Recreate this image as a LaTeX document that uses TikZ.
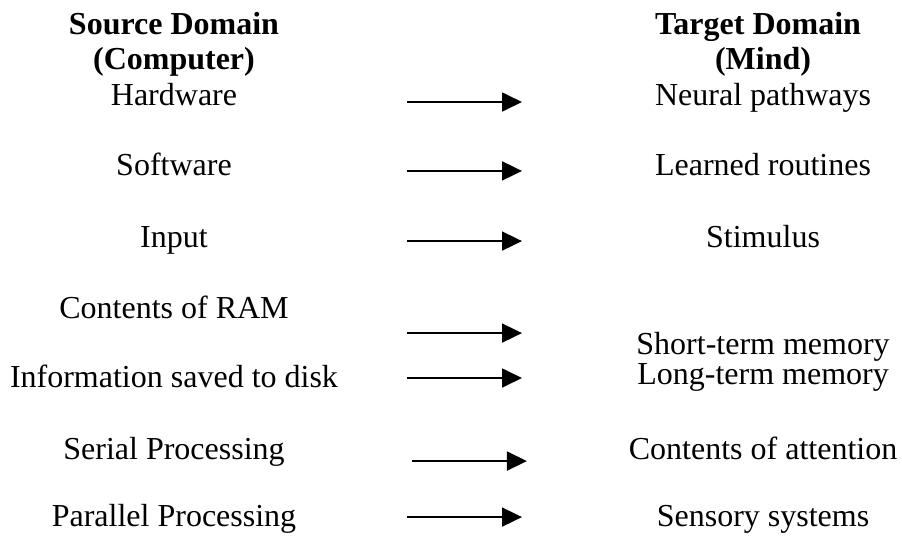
\documentclass[tikz,border=0pt]{standalone}
\usepackage{fontspec}
\setmainfont{Liberation Serif}
\usetikzlibrary{positioning, arrows.meta}

\begin{document}
\begin{tikzpicture}[
  term/.style={inner sep=0pt, text height=8.5pt, text depth=2.5pt,
    font=\fontsize{12pt}{13pt}\selectfont, on grid},
  head/.style={term, font=\fontsize{12pt}{13pt}\selectfont\bfseries},
  maps/.style={line width=0.75pt, -{Triangle[length=7.5pt, width=7.1pt]}}
]
\useasboundingbox (0,0) rectangle (338.25pt,-201.4pt);

% computer side
\node[head, anchor=base] (src1) at (65.25pt,-13.1pt) {Source Domain};
\node[head, below=13.1pt of src1] (src2) {(Computer)};
\node[term, below=13.5pt of src2] (hw) {Hardware};
\node[term, below=26.25pt of hw] (sw) {Software};
\node[term, below=27pt of sw] (inp) {Input};
\node[term, below=26.6pt of inp] (ram) {Contents of RAM};
\node[term, below=25.9pt of ram] (disk) {Information saved to disk};
\node[term, below=27pt of disk] (ser) {Serial Processing};
\node[term, below=25.1pt of ser] (par) {Parallel Processing};

% mind side
\node[head, right=219pt of src1] (tgt1) {Target Domain};
\node[head, right=220.9pt of src2] (tgt2) {(Mind)};
\node[term, right=220.9pt of hw] (neur) {Neural pathways};
\node[term, right=220.9pt of sw] (learn) {Learned routines};
\node[term, right=220.9pt of inp] (stim) {Stimulus};
\node[term, above right=1.1pt and 220.9pt of disk] (ltm) {Long-term memory};
\node[term, above=11.6pt of ltm] (stm) {Short-term memory};
\node[term, right=220.9pt of ser] (att) {Contents of attention};
\node[term, right=220.9pt of par] (sens) {Sensory systems};

% mapping arrows
\foreach \n/\xa/\xb/\y in {1/152.6/195.75/38.25, 2/152.6/195.75/64.1,
    3/152.6/195.75/90.4, 4/152.6/195.75/124.9, 5/152.6/195.75/141.75,
    6/154.5/197.6/172.9, 7/152.6/195.75/193.9} {
  \coordinate (from\n) at (\xa pt,-\y pt);
  \coordinate (to\n) at (\xb pt,-\y pt);
  \draw[maps] (from\n) -- (to\n);
}
\end{tikzpicture}
\end{document}
